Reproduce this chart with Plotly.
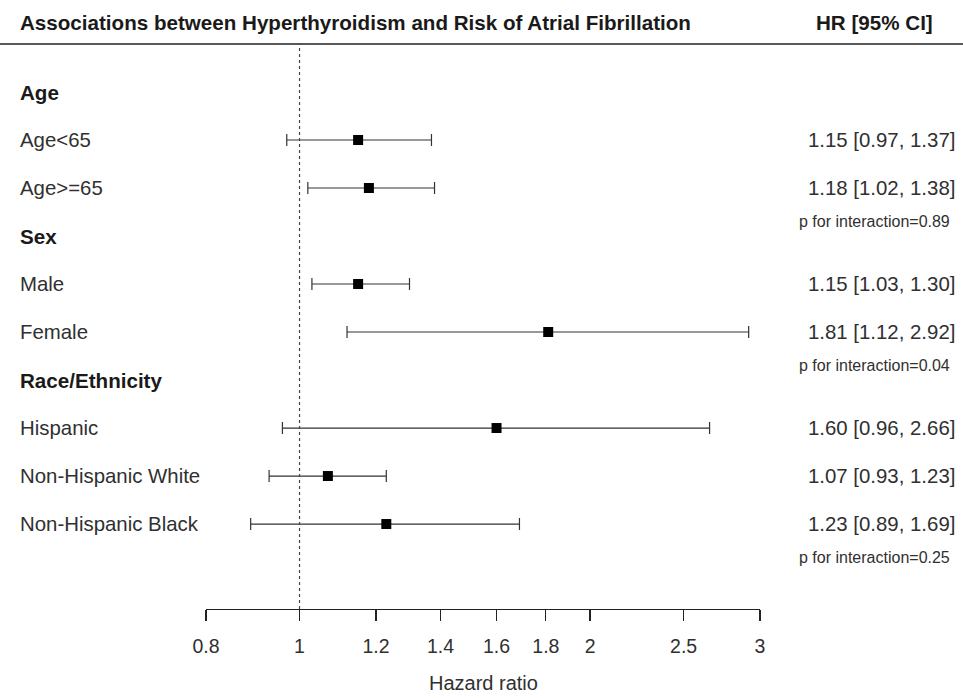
import math
import plotly.graph_objects as go

# ---- data ----
groups = ["Age", "Sex", "Race/Ethnicity"]
group_members = [
    ["Age<65", "Age>=65"],
    ["Male", "Female"],
    ["Hispanic", "Non-Hispanic White", "Non-Hispanic Black"],
]
subgroups = ["Age<65", "Age>=65", "Male", "Female", "Hispanic",
             "Non-Hispanic White", "Non-Hispanic Black"]
hr = [1.15, 1.18, 1.15, 1.81, 1.60, 1.07, 1.23]
ci_low = [0.97, 1.02, 1.03, 1.12, 0.96, 0.93, 0.89]
ci_high = [1.37, 1.38, 1.30, 2.92, 2.66, 1.23, 1.69]
p_interaction = ["0.89", "0.04", "0.25"]
tick_vals = [0.8, 1, 1.2, 1.4, 1.6, 1.8, 2, 2.5, 3]
tick_text = ["0.8", "1", "1.2", "1.4", "1.6", "1.8", "2", "2.5", "3"]

TITLE = "Associations between Hyperthyroidism and Risk of Atrial Fibrillation"
HR_HEADER = "HR [95% CI]"
X_TITLE = "Hazard ratio"

# ---- layout geometry ----
W, H = 963, 698
L, R, T, B = 206, 203, 44, 89
plot_w = W - L - R
plot_h = H - T - B
ROW_MAX = 11.77

def px_to_paper_x(px):
    return (px - L) / plot_w

def px_to_paper_y(py):
    return 1 - (py - T) / plot_h

FONT = "Liberation Sans, Arial, sans-serif"
TXT = "#303030"

# row assignment
row = 1
header_rows = []
sub_rows = {}
p_rows = []
for g, members in zip(groups, group_members):
    header_rows.append(row)
    row += 1
    for m in members:
        sub_rows[m] = row
        row += 1
    p_rows.append(row - 1 + 0.7)

ys = [sub_rows[s] for s in subgroups]

fig = go.Figure()
fig.add_trace(go.Scatter(
    x=hr, y=ys, mode="markers",
    marker=dict(symbol="square", size=10, color="black"),
    error_x=dict(type="data", symmetric=False,
                 array=[h - m for h, m in zip(ci_high, hr)],
                 arrayminus=[m - l for m, l in zip(hr, ci_low)],
                 color="#333333", thickness=1.2, width=6),
    showlegend=False, hoverinfo="skip",
))

ann = []
ann.append(dict(text="<b>" + TITLE + "</b>", xref="paper", yref="paper",
                x=px_to_paper_x(18), y=px_to_paper_y(22), xanchor="left", yanchor="middle",
                showarrow=False, font=dict(family=FONT, size=20.6, color="#1a1a1a")))
ann.append(dict(text="<b>" + HR_HEADER + "</b>", xref="paper", yref="paper",
                x=px_to_paper_x(935), y=px_to_paper_y(22), xanchor="right", yanchor="middle",
                showarrow=False, font=dict(family=FONT, size=20.6, color="#1a1a1a")))
for g, r in zip(groups, header_rows):
    ann.append(dict(text="<b>" + g + "</b>", xref="paper", yref="y",
                    x=px_to_paper_x(18), y=r, xanchor="left", yanchor="middle",
                    showarrow=False, font=dict(family=FONT, size=20.6, color="#1a1a1a")))
for s, h, lo, hi in zip(subgroups, hr, ci_low, ci_high):
    r = sub_rows[s]
    ann.append(dict(text=s, xref="paper", yref="y",
                    x=px_to_paper_x(18), y=r, xanchor="left", yanchor="middle",
                    showarrow=False, font=dict(family=FONT, size=20.4, color=TXT)))
    ann.append(dict(text=f"{h:.2f} [{lo:.2f}, {hi:.2f}]", xref="paper", yref="y",
                    x=px_to_paper_x(957), y=r, xanchor="right", yanchor="middle",
                    showarrow=False, font=dict(family=FONT, size=20.4, color=TXT)))
for p, r in zip(p_interaction, p_rows):
    ann.append(dict(text=f"p for interaction={p}", xref="paper", yref="y",
                    x=px_to_paper_x(952), y=r, xanchor="right", yanchor="middle",
                    showarrow=False, font=dict(family=FONT, size=16, color=TXT)))
ann.append(dict(text=X_TITLE, xref="paper", yref="paper",
                x=0.5, y=px_to_paper_y(683), xanchor="center", yanchor="middle",
                showarrow=False, font=dict(family=FONT, size=20, color=TXT)))

shapes = [
    dict(type="line", xref="paper", yref="paper",
         x0=px_to_paper_x(0), x1=px_to_paper_x(W), y0=1, y1=1,
         line=dict(color="#222222", width=1.5)),
    dict(type="line", xref="x", yref="paper", x0=1, x1=1, y0=0, y1=1,
         line=dict(color="#444444", width=1.2, dash="dot")),
]

fig.update_layout(
    width=W, height=H,
    margin=dict(l=L, r=R, t=T, b=B, pad=0),
    paper_bgcolor="white", plot_bgcolor="white",
    annotations=ann, shapes=shapes,
    xaxis=dict(type="log", range=[math.log10(0.8), math.log10(3)],
               tickvals=tick_vals, ticktext=tick_text,
               showgrid=False, zeroline=False,
               showline=True, linecolor="#222222", linewidth=1.2,
               ticks="outside", ticklen=11, tickwidth=1.2, tickcolor="#222222",
               ticklabelstandoff=8,
               tickfont=dict(family=FONT, size=19.5, color=TXT)),
    yaxis=dict(range=[ROW_MAX, 0], visible=False, showgrid=False, zeroline=False),
)

fig.write_html("out.html",
               config={"displayModeBar": False, "staticPlot": True},
               post_script="document.body.style.margin='0';document.body.style.overflow='hidden';")
